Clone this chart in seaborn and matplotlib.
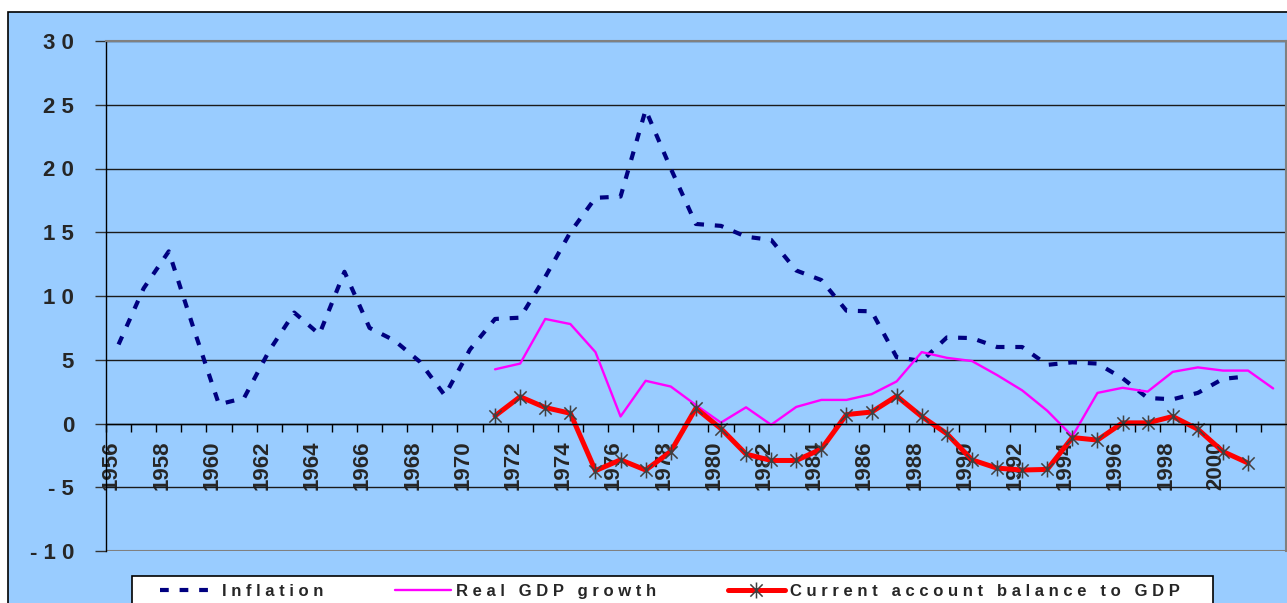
import numpy as np
import pandas as pd
import seaborn as sns
import matplotlib.pyplot as plt
from matplotlib.path import Path
from matplotlib.patches import Rectangle
from matplotlib.transforms import ScaledTranslation

# data
years = list(range(1956, 2003))
inflation = [6.2, 10.6, 13.5, 7.4, 1.5, 2.0, 5.7, 8.7, 7.0, 11.9, 7.5, 6.5,
             4.85, 2.2, 5.8, 8.2, 8.3, 11.5, 15.0, 17.7, 17.8, 24.6, 20.0,
             15.65, 15.5, 14.65, 14.4, 12.0, 11.25, 8.85, 8.8, 5.2, 4.9, 6.75,
             6.7, 6.0, 6.0, 4.6, 4.8, 4.7, 3.55, 2.0, 1.9, 2.4, 3.5, 3.7]
gdp_growth = [4.25, 4.7, 8.2, 7.8, 5.6, 0.55, 3.35, 2.9, 1.45, 0.07, 1.27,
              -0.1, 1.3, 1.85, 1.85, 2.3, 3.3, 5.6, 5.15, 4.9, 3.8, 2.6, 1.0,
              -1.0, 2.4, 2.8, 2.5, 4.05, 4.4, 4.15, 4.15, 2.75]
current_account = [0.6, 2.1, 1.25, 0.8, -3.7, -2.85, -3.65, -2.2, 1.2, -0.4,
                   -2.4, -2.9, -2.9, -2.0, 0.7, 0.9, 2.15, 0.55, -0.8, -2.85,
                   -3.5, -3.65, -3.6, -1.1, -1.3, 0.05, 0.05, 0.55, -0.45,
                   -2.2, -3.1]
series_names = ["Inflation", "Real GDP growth", "Current account balance to GDP"]
ytick_values = [-10, -5, 0, 5, 10, 15, 20, 25, 30]
ytick_labels = ["- 1 0", "- 5", "0", "5", "1 0", "1 5", "2 0", "2 5", "3 0"]
xtick_years = list(range(1956, 2001, 2))

# pad the shorter series with NaN so they share one year column
n = len(years)
df = pd.DataFrame({
    "year": years,
    "inflation": inflation + [np.nan] * (n - len(inflation)),
    "gdp": [np.nan] * (n - len(gdp_growth)) + gdp_growth,
    "ca": [np.nan] * (1971 - 1956) + current_account
          + [np.nan] * (n - 15 - len(current_account)),
})

sns.set_style("white")
plt.rcParams["font.family"] = ["Liberation Sans", "DejaVu Sans"]
plt.rcParams["font.weight"] = "bold"

W, H = 1287, 603
bg = "#99CCFF"
fig = plt.figure(figsize=(W / 100, H / 100), dpi=100, facecolor="white")

# outer chart area (cropped on right/bottom in the original)
fig.patches.append(Rectangle((8 / W, -0.2), 1.2, 1.2 - 12 / H,
                             transform=fig.transFigure, facecolor=bg,
                             edgecolor="black", linewidth=1.2, zorder=-2))
# legend box, also cropped at the bottom
fig.patches.append(Rectangle((132 / W, -0.1), (1213 - 132) / W,
                             0.1 + 1 - 576 / H, transform=fig.transFigure,
                             facecolor="white", edgecolor="black",
                             linewidth=1.2, zorder=-1))

ax = fig.add_axes([106 / W, 1 - 551 / H, (1285.7 - 106) / W, (551 - 41) / H])
ax.set_facecolor(bg)

# Excel style asterisk: X plus vertical bar
star = Path([(-1, -1), (1, 1), (-1, 1), (1, -1), (0, -1.3), (0, 1.3)],
            [Path.MOVETO, Path.LINETO, Path.MOVETO, Path.LINETO,
             Path.MOVETO, Path.LINETO])

sns.lineplot(data=df, x="year", y="inflation", ax=ax, color="#000080",
             linewidth=3, linestyle=(0, (2.1, 2.6)), label=series_names[0],
             estimator=None)
sns.lineplot(data=df, x="year", y="gdp", ax=ax, color="#FF00FF",
             linewidth=1.7, label=series_names[1], estimator=None)
sns.lineplot(data=df, x="year", y="ca", ax=ax, color="#FF0000",
             linewidth=3.6, label=series_names[2], estimator=None,
             marker=star, markersize=11.5, markeredgecolor="#404040",
             markerfacecolor="none", markeredgewidth=1.1)

ax.set_xlim(1955.5, 2002.5)
ax.set_ylim(-10, 30)
ax.set_xlabel("")
ax.set_ylabel("")

# grid and frame
ax.yaxis.grid(True, color="#1a1a1a", linewidth=1)
ax.xaxis.grid(False)
ax.axhline(-10, color="#808080", linewidth=1.5)
for side in ["top", "right"]:
    ax.spines[side].set_color("#808080")
    ax.spines[side].set_linewidth(1.5)
ax.spines["left"].set_color("black")
ax.spines["left"].set_linewidth(1)
ax.spines["bottom"].set_position(("data", 0))
ax.spines["bottom"].set_color("black")
ax.spines["bottom"].set_linewidth(1)

# y ticks
ax.set_yticks(ytick_values)
ax.set_yticklabels(ytick_labels, fontsize=16, fontweight="bold")
ax.tick_params(axis="y", direction="out", length=8, width=1, color="#333333",
               pad=15, left=True)

# x ticks: labels on even years, tick marks between categories
ax.set_xticks(xtick_years)
ax.set_xticklabels([str(y) for y in xtick_years], rotation=90,
                   fontsize=16, fontweight="bold", va="top")
ax.set_xticks([y - 0.5 for y in years] + [years[-1] + 0.5], minor=True)
ax.tick_params(axis="x", which="major", length=0, pad=12, bottom=True)
ax.tick_params(axis="x", which="minor", direction="out", length=6, width=1,
               color="black", bottom=True)
shift = ScaledTranslation(-7 / 100, 0, fig.dpi_scale_trans)
for lab in ax.get_xticklabels():
    lab.set_transform(lab.get_transform() + shift)

# legend below the plot, letters spaced like the original
handles, labels = ax.get_legend_handles_labels()
ax.get_legend().remove()
spaced = ["   ".join(" ".join(w) for w in s.split()) for s in labels]
leg = fig.legend(handles, spaced, loc="upper left", ncol=3, frameon=False,
                 bbox_to_anchor=(160 / W, 1 - 584 / H),
                 borderpad=0, borderaxespad=0, columnspacing=4.3,
                 handlelength=3.4, handletextpad=0.3,
                 prop={"size": 12, "weight": "bold"})

fig.savefig("out.png", dpi=100, facecolor="white")
